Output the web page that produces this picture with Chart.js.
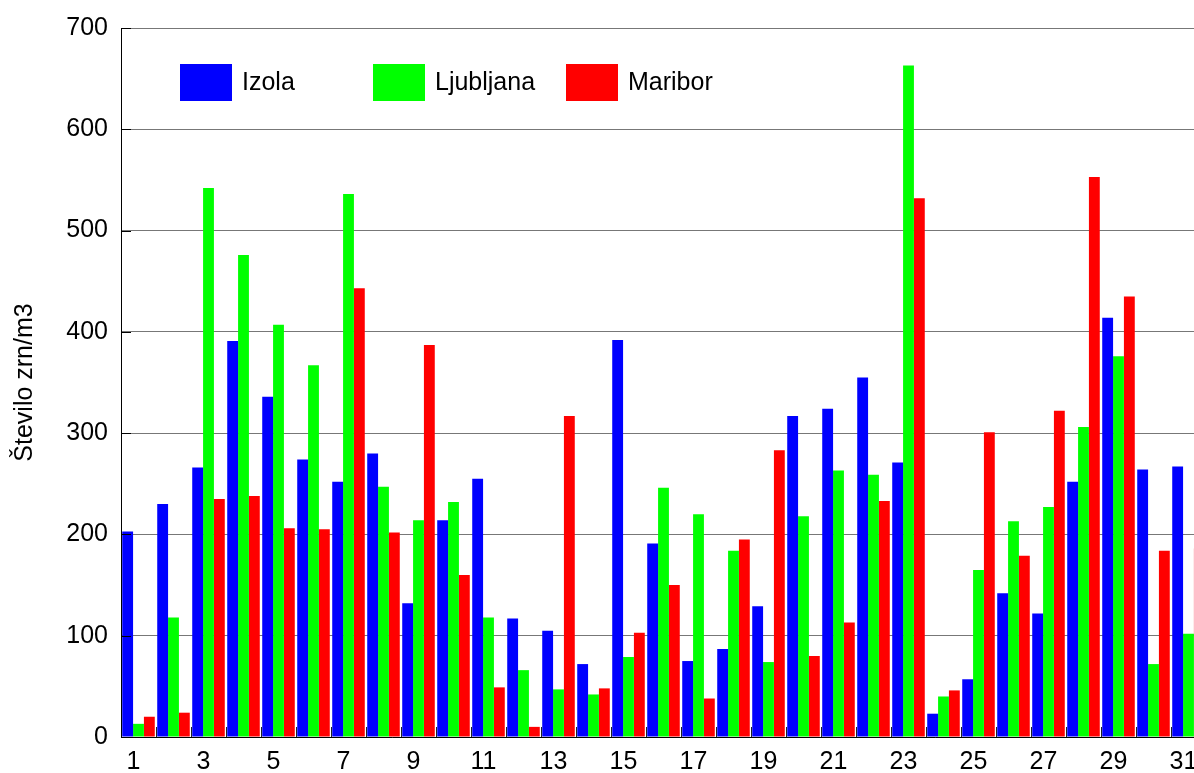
<!DOCTYPE html>
<html>
<head>
<meta charset="utf-8">
<script src="https://cdn.jsdelivr.net/npm/chart.js@4/dist/chart.umd.min.js"></script>
<style>
  html, body { margin: 0; padding: 0; background: #fff; overflow: hidden; }
  #wrap { width: 1216px; height: 773px; }
</style>
</head>
<body>
<div id="wrap"><canvas id="c" width="1216" height="773"></canvas></div>
<script>
// Days of the month
const days = Array.from({ length: 31 }, (_, i) => String(i + 1));

// Daily pollen counts (zrn/m3) per station
const izola = [203, 230, 266, 391, 336, 274, 252, 280, 132, 214, 255, 117, 105, 72, 392, 191,
               75, 87, 129, 317, 324, 355, 271, 23, 57, 142, 122, 252, 414, 264, 267];
const ljubljana = [13, 118, 542, 476, 407, 367, 536, 247, 214, 232, 118, 66, 47, 42, 79, 246,
                   220, 184, 74, 218, 263, 259, 663, 40, 165, 213, 227, 306, 376, 72, 102];
const maribor = [20, 24, 235, 238, 206, 205, 443, 202, 387, 160, 49, 10, 317, 48, 103, 150,
                 38, 195, 283, 80, 113, 233, 532, 46, 301, 179, 322, 553, 435, 184, 186];

const seriesNames = ['Izola', 'Ljubljana', 'Maribor'];
const seriesColors = ['#0000ff', '#00ff00', '#ff0000'];
const yTicks = [0, 100, 200, 300, 400, 500, 600, 700];

const FONT = { family: '"Liberation Sans", Arial, Helvetica, sans-serif', size: 25 };
Chart.defaults.color = '#000';
Chart.defaults.font.family = FONT.family;

// Legend drawn inside the plot area, items at an even pitch
const insideLegend = {
  id: 'insideLegend',
  afterDraw(chart) {
    const { ctx, chartArea } = chart;
    ctx.save();
    ctx.font = `${FONT.size}px ${FONT.family}`;
    ctx.textBaseline = 'middle';
    ctx.textAlign = 'left';
    chart.data.datasets.forEach((ds, i) => {
      const x = chartArea.left + 59 + i * 193;
      const y = chartArea.top + 36;
      ctx.fillStyle = ds.backgroundColor;
      ctx.fillRect(x, y, 52, 37);
      ctx.fillStyle = '#000';
      ctx.fillText(ds.label, x + 62, y + 19);
    });
    ctx.restore();
  }
};

// Short inward tick marks: y ticks on the left axis, group boundaries on the x axis
const innerTicks = {
  id: 'innerTicks',
  afterDatasetsDraw(chart) {
    const { ctx, chartArea, scales } = chart;
    const xs = scales.x, ys = scales.y;
    const n = chart.data.labels.length;
    const half = (xs.getPixelForValue(1) - xs.getPixelForValue(0)) / 2;
    ctx.save();
    ctx.lineWidth = 1;
    ctx.strokeStyle = '#222';
    ctx.beginPath();
    for (let i = 1; i <= n; i++) {
      const px = Math.round(xs.getPixelForValue(i - 1) + half) + 0.5;
      ctx.moveTo(px, chartArea.bottom);
      ctx.lineTo(px, chartArea.bottom - 10);
    }
    ctx.stroke();
    ctx.strokeStyle = '#000';
    ctx.beginPath();
    yTicks.forEach(v => {
      const py = Math.round(ys.getPixelForValue(v)) + 0.5;
      ctx.moveTo(chartArea.left, py);
      ctx.lineTo(chartArea.left + 10, py);
    });
    ctx.stroke();
    ctx.restore();
  }
};

new Chart(document.getElementById('c'), {
  type: 'bar',
  data: {
    labels: days,
    datasets: [izola, ljubljana, maribor].map((vals, i) => ({
      label: seriesNames[i],
      data: vals,
      backgroundColor: seriesColors[i],
      borderWidth: 0,
      categoryPercentage: 0.93,
      barPercentage: 1.0
    }))
  },
  options: {
    responsive: false,
    animation: false,
    devicePixelRatio: 1,
    layout: { padding: { top: 26, right: 10, left: 0, bottom: 0 } },
    plugins: {
      legend: { display: false },
      tooltip: { enabled: false }
    },
    scales: {
      x: {
        offset: true,
        grid: { display: false, drawTicks: false },
        border: { display: true, color: '#000', width: 1 },
        ticks: {
          autoSkip: false,
          maxRotation: 0,
          padding: 10,
          labelOffset: -5,
          font: FONT,
          callback: (v, i) => (i % 2 === 0 ? days[i] : '')
        },
        afterFit: (s) => { s.height = 36; }
      },
      y: {
        min: 0,
        max: 700,
        afterBuildTicks: (s) => { s.ticks = yTicks.map(v => ({ value: v })); },
        grid: { color: '#777', lineWidth: 1, drawTicks: false },
        border: { display: true, color: '#000', width: 1 },
        ticks: { padding: 13, font: FONT },
        title: {
          display: true,
          text: 'Število zrn/m3',
          font: FONT,
          padding: { top: 10, bottom: 0 }
        },
        afterFit: (s) => { s.width = 121; }
      }
    }
  },
  plugins: [innerTicks, insideLegend]
});
</script>
</body>
</html>
